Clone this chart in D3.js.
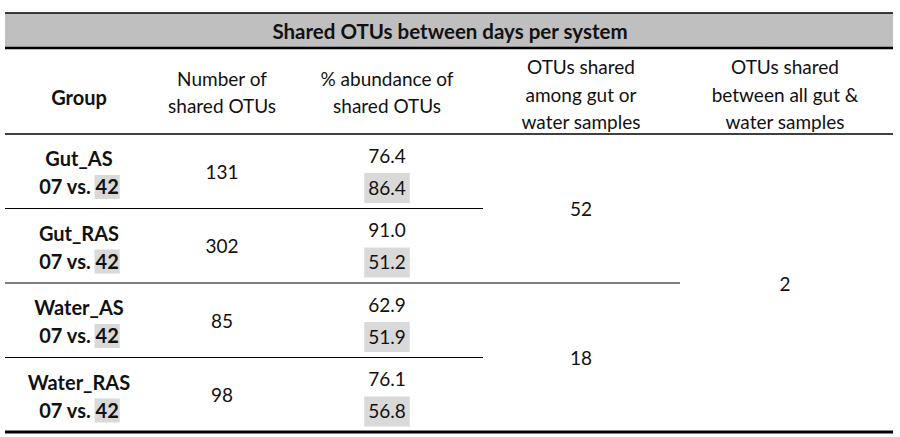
<!DOCTYPE html>
<html>
<head>
<meta charset="utf-8">
<script src="https://cdnjs.cloudflare.com/ajax/libs/d3/7.8.5/d3.min.js"></script>
<style>
  body { margin: 0; background: #fff; }
  svg text { font-family: Lato, "Open Sans", sans-serif; fill: #111; }
</style>
</head>
<body>
<svg width="900" height="437"></svg>
<script>
// data of the table
let title = "Shared OTUs between days per system"
let headers = [["Group"], ["Number of", "shared OTUs"], ["% abundance of", "shared OTUs"],
               ["OTUs shared", "among gut or", "water samples"], ["OTUs shared", "between all gut &", "water samples"]]
let groups = ["Gut_AS", "Gut_RAS", "Water_AS", "Water_RAS"]
let dayA = "07"
let dayB = "42"
let nShared = [131, 302, 85, 98]
let abund07 = ["76.4", "91.0", "62.9", "76.1"]
let abund42 = ["86.4", "51.2", "51.9", "56.8"]
let sharedAmong = [{label: "52", rows: ["Gut_AS", "Gut_RAS"]}, {label: "18", rows: ["Water_AS", "Water_RAS"]}]
let sharedAll = "2"

let svg = d3.select("svg")
let cols = ["group", "n", "abund", "among", "all"]
let x = d3.scaleOrdinal().domain(cols).range([79, 222, 387, 581, 785])
let y = d3.scaleBand().domain(groups).range([134, 432])
let left = 5, right = 893
let hl = "#d9d9d9"
let fs = 19      // regular text
let fb = 20      // bold text

// title band
svg.append("rect").attr("x", left).attr("y", 13).attr("width", right-left).attr("height", 35).attr("fill", "#bfbfbf")
svg.append("line").attr("x1", left).attr("x2", right).attr("y1", 13).attr("y2", 13).attr("stroke", "#000").attr("stroke-width", 1.5)
svg.append("line").attr("x1", left).attr("x2", right).attr("y1", 48).attr("y2", 48).attr("stroke", "#000").attr("stroke-width", 2.5)
svg.append("text").attr("x", 450).attr("y", 31).attr("text-anchor", "middle").attr("dominant-baseline", "central")
    .attr("font-size", 20.5).attr("font-weight", "bold").text(title)

// column headers
headers.forEach((h, i) => {
    let mid = h.length == 3 ? 94 : (h.length == 2 ? 92 : 97)
    let step = 27.5
    h.forEach((line, j) => {
        svg.append("text")
            .attr("x", x(cols[i]))
            .attr("y", mid + (j - (h.length-1)/2)*step)
            .attr("text-anchor", "middle").attr("dominant-baseline", "central")
            .attr("font-size", i == 0 ? fb : fs)
            .attr("font-weight", i == 0 ? "bold" : "normal")
            .text(line)
    })
})
svg.append("line").attr("x1", left).attr("x2", right).attr("y1", 134).attr("y2", 134).attr("stroke", "#000").attr("stroke-width", 1.5)

// rows
groups.forEach((g, i) => {
    let top = y(g)
    svg.append("text").attr("x", x("group")).attr("y", top+24).attr("text-anchor", "middle")
        .attr("dominant-baseline", "central").attr("font-size", fb).attr("font-weight", "bold").text(g)
    // second line "07 vs. 42" with highlight behind 42
    let line2 = svg.append("text").attr("x", x("group")).attr("y", top+52).attr("text-anchor", "middle")
        .attr("dominant-baseline", "central").attr("font-size", fb).attr("font-weight", "bold")
    line2.append("tspan").text(dayA + " vs. ")
    let ts = line2.append("tspan").text(dayB)
    let bb = ts.node().getBBox()
    svg.insert("rect", "text").attr("x", bb.x-1).attr("y", top+41).attr("width", bb.width+2).attr("height", 24).attr("fill", hl)

    svg.append("text").attr("x", x("n")).attr("y", top + y.bandwidth()/2).attr("text-anchor", "middle")
        .attr("dominant-baseline", "central").attr("font-size", fs).text(nShared[i])

    svg.append("text").attr("x", x("abund")).attr("y", top+21).attr("text-anchor", "middle")
        .attr("dominant-baseline", "central").attr("font-size", fs).text(abund07[i])
    let a2 = svg.append("text").attr("x", x("abund")).attr("y", top+53).attr("text-anchor", "middle")
        .attr("dominant-baseline", "central").attr("font-size", fs).text(abund42[i])
    let b2 = a2.node().getBBox()
    svg.insert("rect", "text").attr("x", b2.x-4).attr("y", top+39).attr("width", b2.width+8).attr("height", 30).attr("fill", hl)
})

// shared among gut or water
sharedAmong.forEach(s => {
    let y0 = y(s.rows[0]), y1 = y(s.rows[s.rows.length-1]) + y.bandwidth()
    svg.append("text").attr("x", x("among")).attr("y", (y0+y1)/2).attr("text-anchor", "middle")
        .attr("dominant-baseline", "central").attr("font-size", fs).text(s.label)
})
svg.append("text").attr("x", x("all")).attr("y", (y.range()[0]+y.range()[1])/2).attr("text-anchor", "middle")
    .attr("dominant-baseline", "central").attr("font-size", fs).text(sharedAll)

// row separators
let seps = [{after: "Gut_AS", to: 483}, {after: "Gut_RAS", to: 680}, {after: "Water_AS", to: 483}]
seps.forEach(s => {
    let yy = y(s.after) + y.bandwidth()
    svg.append("line").attr("x1", left).attr("x2", s.to).attr("y1", yy).attr("y2", yy).attr("stroke", "#000").attr("stroke-width", 1.2)
})
svg.append("line").attr("x1", left).attr("x2", right).attr("y1", 432).attr("y2", 432).attr("stroke", "#000").attr("stroke-width", 3)
</script>
</body>
</html>
